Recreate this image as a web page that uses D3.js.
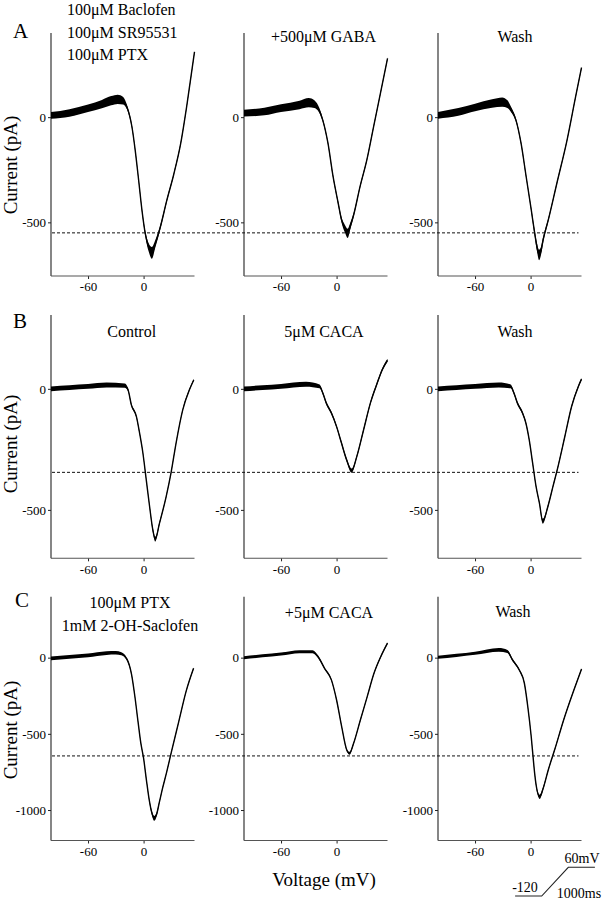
<!DOCTYPE html>
<html><head><meta charset="utf-8">
<script src="https://cdn.jsdelivr.net/npm/d3@7"></script>
<style>body{margin:0;background:#fff}svg{display:block}</style>
</head><body>
<svg id="c" width="609" height="900"></svg>
<script>
// ---------------- data ----------------
const rowLetters = ["A", "B", "C"];
const xTicks = [-60, 0];
const xDomain = [-100, 55];
const yTicksA = [0, -500];
const yTicksB = [0, -500];
const yTicksC = [0, -500, -1000];
const yDomainA = [-755, 400];
const yDomainB = [-700, 305];
const yDomainC = [-1200, 400];
const refLevels = [-550, -345, -645];   // dashed reference lines (pA)

const titlesA = [["100μM Baclofen", "100μM SR95531", "100μM PTX"], ["+500μM GABA"], ["Wash"]];
const titlesB = [["Control"], ["5μM CACA"], ["Wash"]];
const titlesC = [["100μM PTX", "1mM 2-OH-Saclofen"], ["+5μM CACA"], ["Wash"]];

// traces: [voltage mV, current pA, noise half-width pA]
const traceA1 = [[-100,8,16],[-80,20,18],[-60,42,18],[-45,62,20],[-35,78,22],[-28,85,22],[-22,78,18],[-18,48,11],[-12.5,-48,8],[-9,-159,7],[-5.3,-301,7],[-1.7,-444,8],[1.9,-555,12],[5.5,-619,20],[9,-645,28],[12.6,-603,18],[18,-524,10],[25,-397,7],[32.7,-270,6],[40,-127,6],[47,64,6],[55,310,6]];
const traceA2 = [[-100,19,16],[-78,27,18],[-60,43,18],[-40,58,20],[-30,69,22],[-24,62,18],[-20,43,13],[-15,-13,8],[-9.3,-124,7],[-3.8,-282,7],[1.7,-408,8],[5.3,-487,12],[9,-530,18],[12,-552,22],[15,-515,15],[18,-472,10],[25.4,-329,7],[32.7,-203,6],[40,-45,6],[47.4,114,6],[55,279,6]];
const traceA3 = [[-100,9,16],[-78,25,18],[-60,46,18],[-41.6,65,20],[-30.6,72,22],[-25,62,18],[-21.4,39,13],[-15.8,-14,8],[-10.3,-124,7],[-4.8,-282,7],[0.7,-440,8],[4.4,-550,14],[7,-620,20],[9.2,-655,25],[11,-640,20],[13.6,-582,14],[19.2,-487,8],[28.4,-314,6],[39.4,-109,6],[48.6,96,6],[55,235,6]];
const traceB1 = [[-100,0,10],[-80,5,10],[-60,10,10],[-40,16,10],[-20.4,13,9],[-16.8,-4,6],[-13.2,-66,5],[-7.8,-114,5],[-4.3,-183,5],[-0.7,-266,4],[2.9,-376,4],[6.5,-486,5],[10,-583,8],[12.6,-621,10],[17.2,-555,6],[24.4,-445,4],[29.7,-346,4],[35.1,-224,4],[42.3,-87,4],[49.5,-4,4],[54.2,37,4]];
const traceB2 = [[-100,0,10],[-80,5,10],[-60,10,10],[-33,19,10],[-18.4,10,8],[-14.8,-18,6],[-11.1,-59,6],[-5.6,-100,6],[0,-156,6],[5.3,-224,6],[10.8,-293,7],[16.3,-338,9],[21.8,-280,6],[29.2,-169,6],[36.5,-59,6],[43.8,23,6],[49.3,79,6],[55,118,6]];
const traceB3 = [[-100,0,10],[-80,5,10],[-60,10,10],[-34.3,16,10],[-21.5,10,8],[-17.9,-18,6],[-14.2,-59,6],[-8.7,-100,6],[-5.1,-141,5],[-1.5,-210,5],[2.2,-306,5],[5.9,-403,5],[9.5,-471,6],[13.2,-547,10],[18.7,-486,6],[24.2,-403,5],[29.7,-320,5],[37,-197,5],[44.3,-73,5],[51.6,10,5],[55,40,5]];
const traceC1 = [[-100,-5,12],[-80,5,12],[-60,15,12],[-40,30,12],[-30,32,12],[-24,25,10],[-18,-10,8],[-13,-110,7],[-9.5,-250,6],[-6,-420,6],[-3,-560,6],[0,-660,6],[3,-800,7],[6,-930,9],[9,-1020,14],[11.5,-1055,16],[14,-1030,12],[17,-950,7],[20,-870,6],[25,-750,6],[30,-620,6],[38,-420,6],[46,-220,6],[54,-70,6]];
const traceC2 = [[-100,0,10],[-80,12,10],[-60,24,10],[-40,39,10],[-26,39,10],[-20,6,8],[-13,-70,6],[-5.6,-146,6],[0,-278,6],[5.5,-453,6],[11,-606,7],[14,-628,10],[18.4,-562,6],[25.7,-409,6],[33.1,-256,6],[40.4,-103,6],[47.7,6,6],[55,95,6]];
const traceC3 = [[-100,3,10],[-80,15,10],[-60,29,10],[-34.3,51,12],[-25,40,10],[-19.5,-15,8],[-12.2,-81,6],[-6.7,-168,6],[-3,-322,6],[0.7,-519,6],[2.6,-645,6],[4.4,-759,6],[6,-836,8],[9.9,-913,14],[13.6,-858,10],[19.1,-737,6],[26.5,-595,6],[35.7,-409,6],[46.8,-212,6],[55,-75,6]];

// voltage protocol schematic: [time ms, voltage mV]
const protocol = [[-1000,-120],[0,-120],[1000,60],[2000,60]];

// ---------------- layout ----------------
const FONT = "'Liberation Serif','Times New Roman',Times,serif";
const svg = d3.select("#c");
const colLeft = [51, 244, 438];
const colW = 143.5;
const rowTop = [33, 315, 596.7];
const rowBot = [276, 558.3, 840.5];
const rows = [
  {dom: yDomainA, ticks: yTicksA, traces: [traceA1, traceA2, traceA3], titles: titlesA},
  {dom: yDomainB, ticks: yTicksB, traces: [traceB1, traceB2, traceB3], titles: titlesB},
  {dom: yDomainC, ticks: yTicksC, traces: [traceC1, traceC2, traceC3], titles: titlesC}
];
// title placement per row/col: [x, baseline, anchor, lineHeight]
const titlePos = [
  [[67, 15, "start", 22.5], [323.5, 42, "middle", 22], [515, 42, "middle", 22]],
  [[131.7, 336.7, "middle", 22], [324, 336.7, "middle", 22], [515, 336.7, "middle", 22]],
  [[130, 608, "middle", 22.7], [329, 617.7, "middle", 22], [513, 617.3, "middle", 22]]
];
const letterPos = [[13, 38], [13, 328], [15, 607]];
const ylabelY = [165, 444, 730];

rows.forEach((row, ri) => {
  const y = d3.scaleLinear().domain(row.dom).range([rowBot[ri], rowTop[ri]]);
  for (let ci = 0; ci < 3; ci++) {
    const x = d3.scaleLinear().domain(xDomain).range([colLeft[ci], colLeft[ci] + colW]);
    const g = svg.append("g");
    // axes
    const ya = d3.axisLeft(y).tickValues(row.ticks).tickSize(3).tickSizeOuter(0).tickPadding(2).tickFormat(d => String(d));
    const gy = g.append("g").attr("transform", `translate(${colLeft[ci]},0)`).call(ya);
    const xa = d3.axisBottom(x).tickValues(xTicks).tickSize(3).tickSizeOuter(0).tickPadding(3).tickFormat(d => String(d));
    const gx = g.append("g").attr("transform", `translate(0,${rowBot[ri]})`).call(xa);
    [gy, gx].forEach(a => {
      a.select(".domain").remove();
      a.selectAll("text").attr("font-family", FONT).attr("font-size", 13).attr("fill", "#000");
      a.selectAll("line").attr("stroke", "#222");
    });
    g.append("line").attr("x1", colLeft[ci]).attr("x2", colLeft[ci])
      .attr("y1", y(row.dom[1])).attr("y2", y(row.dom[0])).attr("stroke", "#222").attr("stroke-width", 1.1);
    g.append("line").attr("x1", x(xDomain[0])).attr("x2", x(xDomain[1]))
      .attr("y1", y(row.dom[0])).attr("y2", y(row.dom[0])).attr("stroke", "#555").attr("stroke-width", 1.1);

    // trace noise band + line
    const tr = row.traces[ci];
    const area = d3.area().curve(d3.curveMonotoneX)
      .x(d => x(d[0])).y0(d => y(d[1] - d[2])).y1(d => y(d[1] + d[2]));
    g.append("path").attr("d", area(tr)).attr("fill", "#000");
    const line = d3.line().curve(d3.curveMonotoneX).x(d => x(d[0])).y(d => y(d[1]));
    g.append("path").attr("d", line(tr)).attr("fill", "none").attr("stroke", "#000").attr("stroke-width", 1.4);

    // titles
    const [tx, ty, anc, lh] = titlePos[ri][ci];
    row.titles[ci].forEach((t, k) => {
      svg.append("text").attr("x", tx).attr("y", ty + k * lh).attr("text-anchor", anc)
        .attr("font-family", FONT).attr("font-size", 16).attr("fill", "#000").text(t);
    });
  }
  // dashed reference level across the row
  const x0 = d3.scaleLinear().domain(xDomain).range([colLeft[0], colLeft[0] + colW]);
  const x2 = d3.scaleLinear().domain(xDomain).range([colLeft[2], colLeft[2] + colW]);
  svg.append("line").attr("x1", x0(xDomain[0]) + 1).attr("x2", x2(xDomain[1]) - 3)
    .attr("y1", y(refLevels[ri])).attr("y2", y(refLevels[ri]))
    .attr("stroke", "#111").attr("stroke-width", 1).attr("stroke-dasharray", "3,2");

  // row letter
  svg.append("text").attr("x", letterPos[ri][0]).attr("y", letterPos[ri][1])
    .attr("font-family", FONT).attr("font-size", 21).attr("fill", "#000").text(rowLetters[ri]);
  // y label
  svg.append("text").attr("transform", `translate(17,${ylabelY[ri]}) rotate(-90)`)
    .attr("text-anchor", "middle").attr("font-family", FONT).attr("font-size", 19).attr("fill", "#000")
    .text("Current (pA)");
});

// x label
svg.append("text").attr("x", 324).attr("y", 886).attr("text-anchor", "middle")
  .attr("font-family", FONT).attr("font-size", 19).attr("fill", "#000").text("Voltage (mV)");

// protocol scale bar
const pt = d3.scaleLinear().domain([0, 1000]).range([541.7, 568.3]);
const pv = d3.scaleLinear().domain([-120, 60]).range([896, 867.3]);
svg.append("path").attr("d", d3.line().x(d => pt(d[0])).y(d => pv(d[1]))(protocol))
  .attr("fill", "none").attr("stroke", "#222").attr("stroke-width", 1.1);
svg.append("text").attr("x", 582).attr("y", 863).attr("text-anchor", "middle")
  .attr("font-family", FONT).attr("font-size", 14).attr("fill", "#000").text("60mV");
svg.append("text").attr("x", 525).attr("y", 892).attr("text-anchor", "middle")
  .attr("font-family", FONT).attr("font-size", 14).attr("fill", "#000").text("-120");
svg.append("text").attr("x", 579).attr("y", 898).attr("text-anchor", "middle")
  .attr("font-family", FONT).attr("font-size", 14).attr("fill", "#000").text("1000ms");
</script>
</body></html>
